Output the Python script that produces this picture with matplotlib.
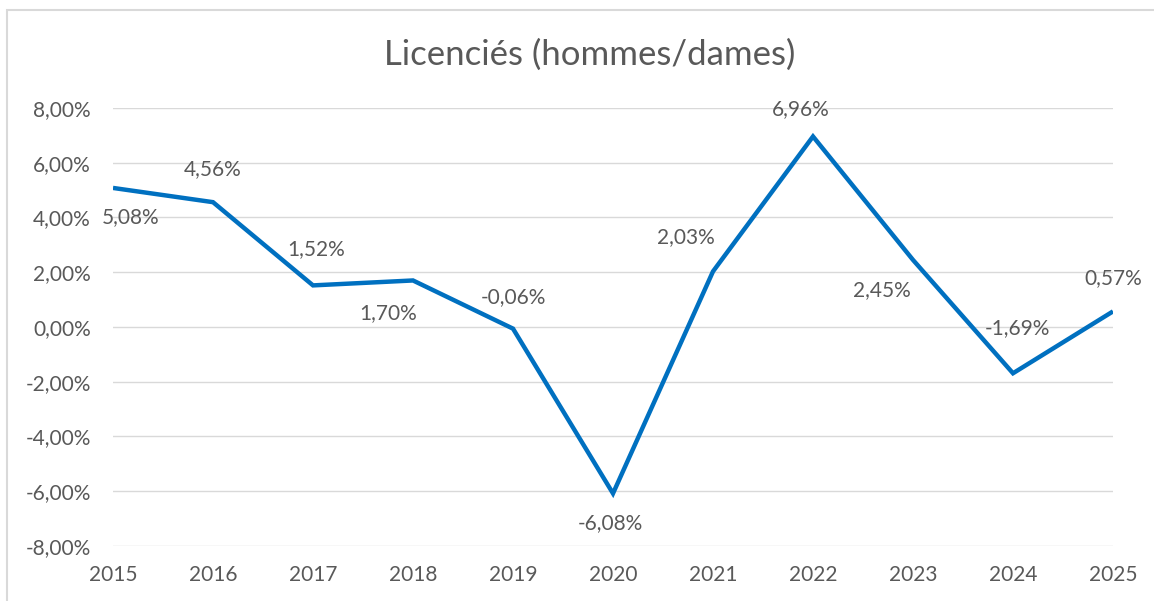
import matplotlib.pyplot as plt
from matplotlib.patches import Rectangle
from matplotlib.ticker import FuncFormatter

# Data
years = [2015, 2016, 2017, 2018, 2019, 2020, 2021, 2022, 2023, 2024, 2025]
values = [5.08, 4.56, 1.52, 1.70, -0.06, -6.08, 2.03, 6.96, 2.45, -1.69, 0.57]
# label offsets in pixels (dx, dy)
label_offsets = [(18, -29), (0, 33), (3, 36), (-25, -33), (0, 32), (-3, -30),
                 (-27, 34), (-12, 27), (-31, -30), (4, 45), (0, 33)]
y_ticks = [-8, -6, -4, -2, 0, 2, 4, 6, 8]

plt.rcParams['font.family'] = ['Lato', 'DejaVu Sans']
text_col = '#595959'
line_col = '#0070C0'

fig = plt.figure(figsize=(11.54, 6.01), dpi=100)
ax = fig.add_axes([113 / 1154, 1 - 546 / 601, 1000 / 1154, 438 / 601])

# light chart-area border (top/left visible)
fig.patches.append(Rectangle((7 / 1154, -0.1), 1.2, 1 - 10 / 601 + 0.1,
                             transform=fig.transFigure, fill=False,
                             edgecolor='#D9D9D9', linewidth=1.5))

ax.plot(years, values, color=line_col, linewidth=3.2, solid_joinstyle='miter',
        solid_capstyle='butt', zorder=3)

def pct(v):
    return f"{v:.2f}%".replace('.', ',')

for x, v, (dx, dy) in zip(years, values, label_offsets):
    ax.annotate(pct(v), (x, v), xytext=(dx, dy), textcoords='offset pixels',
                ha='center', va='center', fontsize=15, color=text_col, zorder=4)

ax.set_xlim(years[0], years[-1])
ax.set_ylim(-8, 8)
ax.set_yticks(y_ticks)
ax.yaxis.set_major_formatter(FuncFormatter(lambda v, p: pct(v)))
ax.set_xticks(years)
ax.set_xticklabels([str(y) for y in years])
ax.grid(axis='y', color='#D9D9D9', linewidth=1)
ax.set_axisbelow(True)
for s in ax.spines.values():
    s.set_visible(False)
ax.tick_params(length=0, labelsize=15, colors=text_col)
ax.tick_params(axis='y', pad=16)
ax.tick_params(axis='x', pad=14)

fig.text(590 / 1154, 1 - 55 / 601, 'Licenciés (hommes/dames)', ha='center',
         va='center', fontsize=25, color=text_col)

fig.savefig('out.png', dpi=100)
